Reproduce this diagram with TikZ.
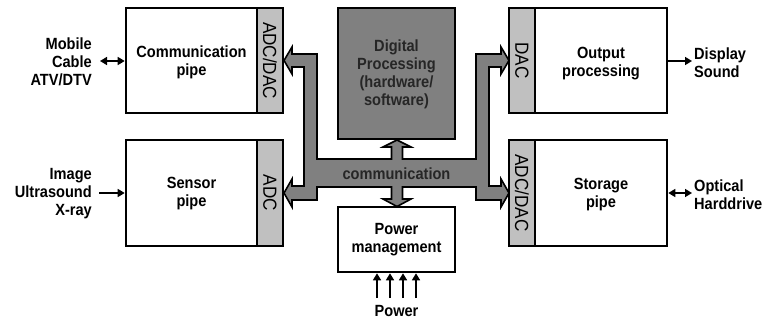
\documentclass[tikz,border=0pt]{standalone}
\usepackage{fontspec}
\setmainfont[FakeStretch=0.9]{Liberation Sans}
\usetikzlibrary{arrows.meta}
\definecolor{busgray}{HTML}{808080}
\definecolor{stripgray}{HTML}{C0C0C0}
\tikzset{
  box/.style={draw=black, line width=2.6pt, fill=white, inner sep=0pt},
  darkbox/.style={box, fill=busgray},
  strip/.style={draw=black, line width=2.6pt, fill=stripgray, inner sep=0pt,
    minimum width=26pt},
  striptext/.style={font=\fontsize{19}{20}\selectfont, rotate=-90, inner sep=0pt},
  lbl/.style={font=\fontsize{16.2}{18}\selectfont\bfseries, inner sep=0pt},
  sig/.style={line width=1.6pt, -{Triangle[length=7pt,width=8pt]}},
  dsig/.style={line width=1.6pt, {Triangle[length=7pt,width=8pt]}-{Triangle[length=7pt,width=8pt]}},
  bus/.style={draw=black, line width=1.6pt, fill=busgray, line join=miter}
}
\begin{document}
\begin{tikzpicture}[x=1pt,y=-1pt]
\useasboundingbox (0,0) rectangle (767,321);
% bus
\draw[bus] (476,159) -- (476,54) -- (501,54) -- (501,47) -- (509,60.5) -- (501,74) -- (501,67)
  -- (489,67) -- (489,186) -- (501,186) -- (501,179) -- (509,193) -- (501,207) -- (501,200)
  -- (476,200) -- (476,187) -- (402.5,187) -- (402.5,199) -- (411,199) -- (397,206.5)
  -- (383,199) -- (391.5,199) -- (391.5,187) -- (317,187) -- (317,200) -- (292,200)
  -- (292,207) -- (284,193) -- (292,179) -- (292,186) -- (304,186) -- (304,67) -- (292,67)
  -- (292,74) -- (284,60.5) -- (292,47) -- (292,54) -- (317,54) -- (317,159) -- (391.5,159)
  -- (391.5,147) -- (383,147) -- (397,140) -- (411,147) -- (402.5,147) -- (402.5,159) -- cycle;
\node[lbl, text=black!85] (busl) at (396.5,173.5) {communication};
% left column
\node[box, minimum width=131pt, minimum height=105pt] (comm) at (191.5,60.5) {};
\node[lbl, align=center] (commt) at (191.5,62.8) {Communication\\pipe};
\node[strip, minimum height=105pt] (commadc) at (270,60.5) {};
\node[striptext] (commadct) at (commadc.center) {ADC/DAC};
\node[box, minimum width=131pt, minimum height=106pt] (sens) at (191.5,193) {};
\node[lbl, align=center] (senst) at (191.5,193.5) {Sensor\\pipe};
\node[strip, minimum height=106pt] (sensadc) at (270,193) {};
\node[striptext] (sensadct) at (sensadc.center) {ADC};
% center
\node[darkbox, minimum width=117pt, minimum height=131pt] (dp) at (396.5,73.5) {};
\node[lbl, align=center, text=black!85] (dpt) at (396.5,74.3) {Digital\\Processing\\(hardware/\\software)};
\node[box, minimum width=117pt, minimum height=65pt] (pm) at (396.5,239.5) {};
\node[lbl, align=center] (pmt) at (396.5,240) {Power\\management};
% right column
\node[strip, minimum height=105pt] (outdac) at (522,60.5) {};
\node[striptext] (outdact) at (outdac.center) {DAC};
\node[box, minimum width=132pt, minimum height=105pt] (outp) at (601,60.5) {};
\node[lbl, align=center] (outpt) at (601,63.5) {Output\\processing};
\node[strip, minimum height=106pt] (storadc) at (522,193) {};
\node[striptext] (storadct) at (storadc.center) {ADC/DAC};
\node[box, minimum width=132pt, minimum height=106pt] (stor) at (601,193) {};
\node[lbl, align=center] (stort) at (601,194.5) {Storage\\pipe};
% external labels
\node[lbl, align=right, anchor=east] (mob) at (92,61.8) {Mobile\\Cable\\ATV/DTV};
\node[lbl, align=right, anchor=east] (img) at (92,193.8) {Image\\Ultrasound\\X-ray};
\node[lbl, align=left, anchor=west] (disp) at (694,62.8) {Display\\Sound};
\node[lbl, align=left, anchor=west] (opt) at (694,194.8) {Optical\\Harddrive};
\node[lbl] (pwr) at (396.5,311.5) {Power};
% signal arrows
\coordinate (mobA) at (100,61);
\coordinate (imgA) at (99,193);
\coordinate (dispA) at (692,61);
\coordinate (optA) at (692,193);
\draw[dsig] (mobA) -- (mobA -| comm.west);
\draw[sig] (imgA) -- (imgA -| sens.west);
\draw[sig] (dispA -| outp.east) -- (dispA);
\draw[dsig] (optA -| stor.east) -- (optA);
\foreach \i/\x in {1/377,2/390,3/403,4/416}{
  \coordinate (pw\i) at (\x,298);
  \draw[sig] (pw\i) -- (pw\i |- pm.south);
}
\end{tikzpicture}
\end{document}
